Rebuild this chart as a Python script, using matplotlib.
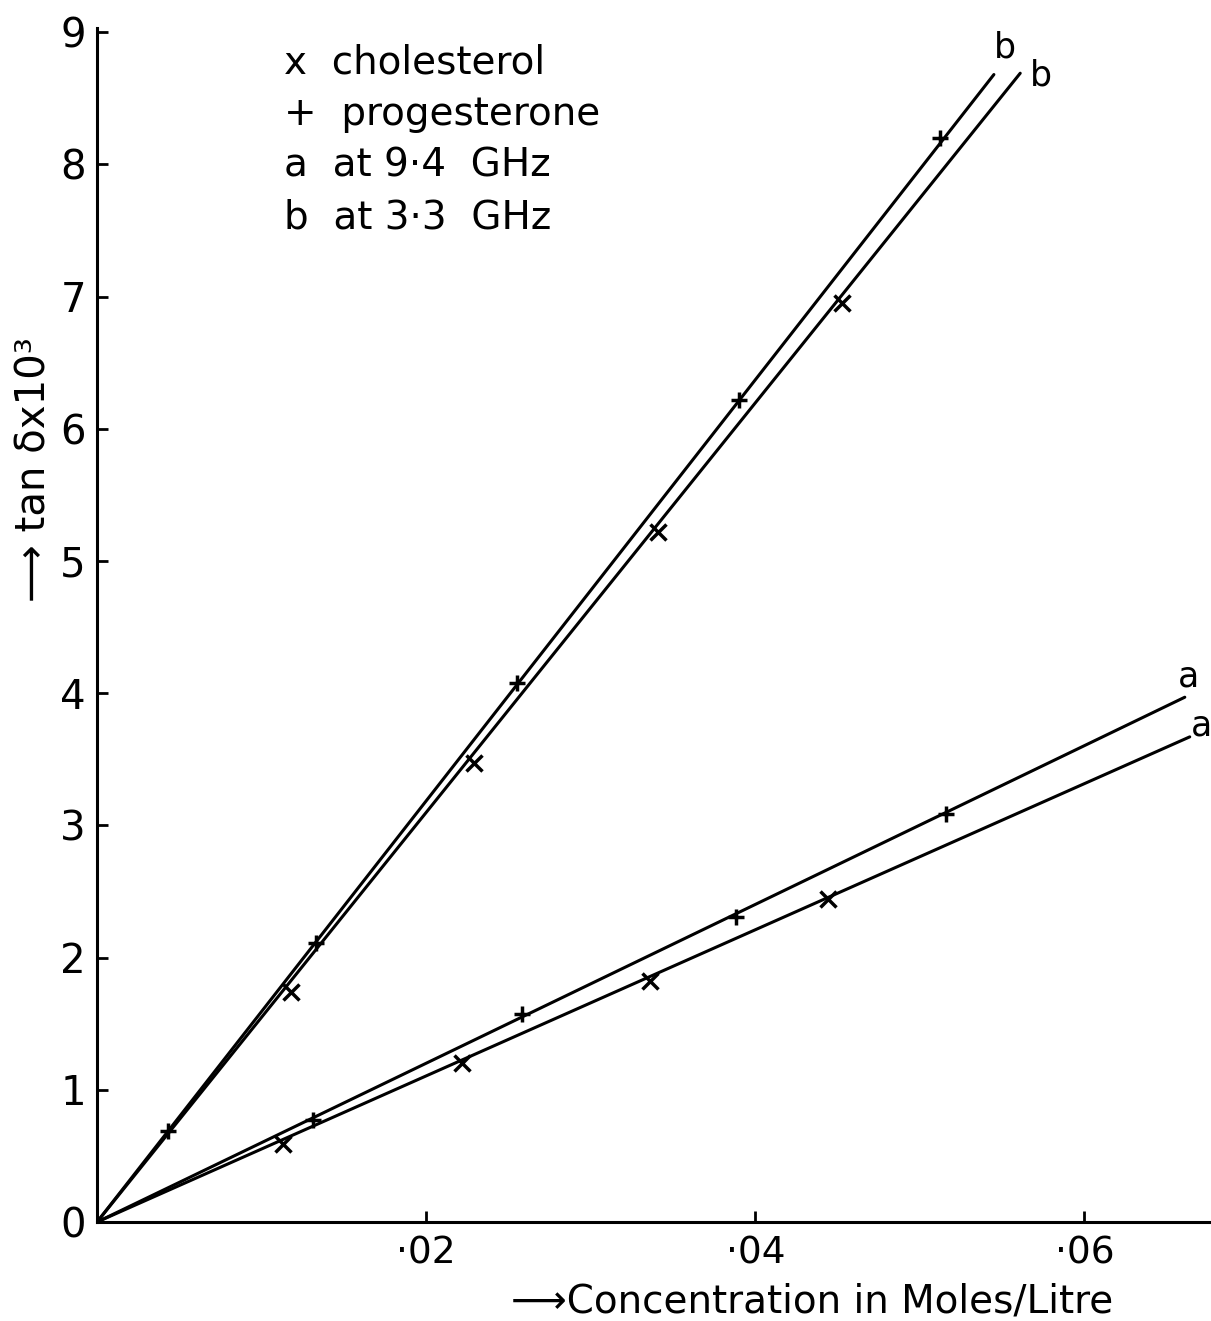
import matplotlib.pyplot as plt

# readings (tan delta x 10^3 vs concentration)
prog_b_x = [0.0043, 0.0133, 0.0255, 0.0390, 0.0512]
prog_b_y = [0.69, 2.11, 4.08, 6.22, 8.20]
chol_b_x = [0.0118, 0.0229, 0.0341, 0.0453]
chol_b_y = [1.74, 3.47, 5.22, 6.95]
prog_a_x = [0.0131, 0.0258, 0.0388, 0.0516]
prog_a_y = [0.77, 1.57, 2.31, 3.09]
chol_a_x = [0.0113, 0.0222, 0.0336, 0.0444]
chol_a_y = [0.59, 1.20, 1.82, 2.44]

# fitted lines run from the origin to these ends
line_names = ["prog_b", "chol_b", "prog_a", "chol_a"]
line_end_x = [0.0545, 0.0561, 0.0661, 0.0664]
line_end_y = [8.68, 8.69, 3.97, 3.67]
line_labels = ["b", "b", "a", "a"]
label_offsets = [(0, 7), (7, -14), (-5, 3), (1, -4)]

x_ticks = [0.02, 0.04, 0.06]
x_ticklabels = ["·02", "·04", "·06"]
y_ticks = list(range(10))

legend_lines = ["x  cholesterol", "+  progesterone", "a  at 9·4  GHz", "b  at 3·3  GHz"]

plt.rcParams["font.family"] = ["DejaVu Sans"]

fig = plt.figure(figsize=(12.11, 13.21), dpi=100)
ax = fig.add_axes([0.0801, 0.0749, 0.920, 0.9037])

for ex, ey in zip(line_end_x, line_end_y):
    ax.plot([0, ex], [0, ey], color="black", lw=2.2, solid_capstyle="round")

for ex, ey, lab, off in zip(line_end_x, line_end_y, line_labels, label_offsets):
    ax.annotate(lab, (ex, ey), xytext=off, textcoords="offset points",
                fontsize=25, ha="left", va="bottom", annotation_clip=False)

mk = dict(color="black", linestyle="none", markersize=12, markeredgewidth=2.5)
ax.plot(prog_b_x, prog_b_y, marker="+", **mk)
ax.plot(prog_a_x, prog_a_y, marker="+", **mk)
ax.plot(chol_b_x, chol_b_y, marker="x", **mk)
ax.plot(chol_a_x, chol_a_y, marker="x", **mk)

ax.set_xlim(0, 0.0677)
ax.set_ylim(0, 9.03)

for side in ["top", "right"]:
    ax.spines[side].set_visible(False)
for side in ["left", "bottom"]:
    ax.spines[side].set_linewidth(2.2)

ax.set_xticks(x_ticks)
ax.set_xticklabels(x_ticklabels)
ax.set_yticks(y_ticks)
ax.tick_params(axis="both", direction="in", length=8, width=2)
ax.tick_params(axis="y", labelsize=29, pad=8)
ax.tick_params(axis="x", labelsize=27, pad=10)

ax.set_xlabel("⟶Concentration in Moles/Litre", fontsize=28)
ax.xaxis.set_label_coords(0.642, -0.051)
ax.set_ylabel("⟶ tan δx10³", fontsize=29)
ax.yaxis.set_label_coords(-0.038, 0.63)

ax.text(0.168, 0.987, "\n".join(legend_lines), transform=ax.transAxes,
        fontsize=28, va="top", ha="left", linespacing=1.45)

fig.savefig("out.png", dpi=100)
